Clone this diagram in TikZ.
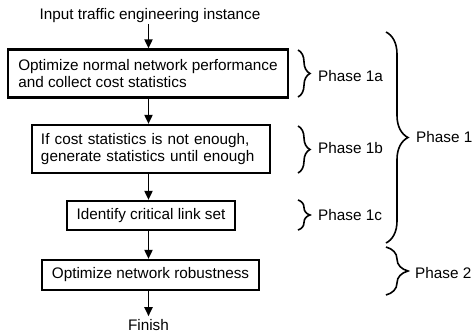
\documentclass[tikz,border=0pt]{standalone}
\usepackage{fontspec}
\setmainfont{Liberation Sans}
\usetikzlibrary{arrows.meta,decorations.pathreplacing}
\newcommand{\fs}{\fontsize{15.3}{17}\selectfont}
\begin{document}
\begin{tikzpicture}[x=1pt,y=-1pt,
  box/.style={draw,line width=2.2pt,inner sep=0pt,font=\fs},
  arr/.style={line width=1.8pt,-{Triangle[length=9pt,width=8pt]}},
  brc/.style={decorate,decoration={brace,amplitude=#1},line width=1.6pt},
  lbl/.style={anchor=west,inner sep=0pt,font=\fs}]
\useasboundingbox (0,0) rectangle (472,333);
\coordinate (ax) at (148.5,0);
\node[font=\fs,inner sep=0pt,anchor=base] (in) at (150,19) {Input traffic engineering instance};
\node[box,minimum width=280pt,minimum height=48pt,align=left] (b1) at (148,73.5) {Optimize normal network performance\\and collect cost statistics};
\node[box,minimum width=238pt,minimum height=48pt,text width=220pt,align=left] (b2) at (151,149) {If cost statistics is not enough,\\generate statistics until enough};
\node[box,minimum width=168pt,minimum height=29pt,align=center] (b3) at (151,215.5) {Identify critical link set};
\node[box,minimum width=217pt,minimum height=30pt,align=center] (b4) at (150.5,275) {Optimize network robustness};
\node[font=\fs,inner sep=0pt,anchor=base] (fin) at (148.5,330.5) {Finish};
\draw[arr,shorten <=1.5pt] (in.south -| ax) -- (b1.north -| ax);
\draw[arr] (b1.south -| ax) -- (b2.north -| ax);
\draw[arr] (b2.south -| ax) -- (b3.north -| ax);
\draw[arr] (b3.south -| ax) -- (b4.north -| ax);
\draw[arr,shorten >=3pt] (b4.south -| ax) -- (fin.north -| ax);
% braces
\coordinate (a1) at (298,50);  \coordinate (a2) at (298,97);
\coordinate (c1) at (298,126); \coordinate (c2) at (298,173);
\coordinate (d1) at (298,200); \coordinate (d2) at (298,230);
\coordinate (e1) at (386,32);  \coordinate (e2) at (386,243);
\coordinate (f1) at (386,247); \coordinate (f2) at (386,295);
\draw[brc=12pt] (a1) -- (a2);
\draw[brc=12pt] (c1) -- (c2);
\draw[brc=12pt] (d1) -- (d2);
\draw[brc=22pt] (e1) -- (e2);
\draw[brc=22pt] (f1) -- (f2);
\node[lbl] (l1a) at (318,76) {Phase 1a};
\node[lbl] (l1b) at (318,148) {Phase 1b};
\node[lbl] (l1c) at (318,215) {Phase 1c};
\node[lbl] (l1) at (416,137) {Phase 1};
\node[lbl] (l2) at (415,273) {Phase 2};
\end{tikzpicture}
\end{document}
